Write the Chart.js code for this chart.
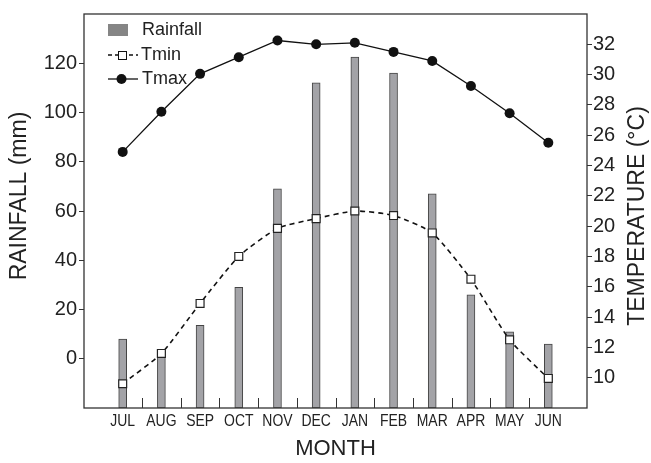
<!DOCTYPE html>
<html>
<head>
<meta charset="utf-8">
<script src="https://cdn.jsdelivr.net/npm/chart.js@4.4.1/dist/chart.umd.min.js"></script>
<style>
    html, body { margin: 0; padding: 0; background: #fff; }
    #wrap { width: 651px; height: 463px; }
</style>
</head>
<body>
<div id="wrap"><canvas id="climateChart"></canvas></div>
<script>
// Data
const months = ['JUL', 'AUG', 'SEP', 'OCT', 'NOV', 'DEC', 'JAN', 'FEB', 'MAR', 'APR', 'MAY', 'JUN'];
const rainfall = [8, 3, 13.6, 29, 69, 112, 122.5, 116, 67, 26, 10.9, 6];
const tmin = [9.6, 11.6, 14.9, 18.0, 19.85, 20.5, 21.0, 20.7, 19.55, 16.5, 12.5, 9.95];
const tmax = [24.9, 27.55, 30.05, 31.15, 32.25, 32.0, 32.1, 31.5, 30.9, 29.25, 27.45, 25.5];
const rainTicks = [0, 20, 40, 60, 80, 100, 120];
const tempTicks = [10, 12, 14, 16, 18, 20, 22, 24, 26, 28, 30, 32];

const RAIN_MIN = -20, RAIN_MAX = 140;
const TEMP_MIN = 8, TEMP_MAX = 34;

const FONT = '"Liberation Sans", Arial, Helvetica, sans-serif';
const INK = '#222';
const AXIS = '#333';

function drawVerticalText(ctx, text, x, y) {
    ctx.save();
    ctx.translate(x, y);
    ctx.rotate(-Math.PI / 2);
    ctx.textAlign = 'center';
    ctx.textBaseline = 'middle';
    ctx.fillText(text, 0, 0);
    ctx.restore();
}

// frame, inward month ticks, condensed month labels, y titles and the in-plot legend
const decorPlugin = {
    id: 'decor',
    afterDraw(chart) {
        const { ctx, chartArea: a, scales } = chart;
        ctx.save();

        ctx.strokeStyle = AXIS;
        ctx.lineWidth = 1.3;
        ctx.strokeRect(a.left, a.top, a.right - a.left, a.bottom - a.top);

        // tick marks between months, pointing up into the plot
        ctx.lineWidth = 1;
        ctx.beginPath();
        for (let i = 0; i < months.length - 1; i++) {
            const x = Math.round(scales.x.getPixelForValue(i + 0.5)) + 0.5;
            ctx.moveTo(x, a.bottom);
            ctx.lineTo(x, a.bottom - 10);
        }
        ctx.stroke();

        // month labels, horizontally condensed like the original
        ctx.fillStyle = INK;
        ctx.font = '17px ' + FONT;
        ctx.textAlign = 'center';
        ctx.textBaseline = 'middle';
        months.forEach((m, i) => {
            const x = scales.x.getPixelForValue(i);
            ctx.save();
            ctx.translate(x, a.bottom + 13);
            ctx.scale(0.82, 1);
            ctx.fillText(m, 0, 0);
            ctx.restore();
        });

        // axis titles, both reading bottom to top
        ctx.font = '23px ' + FONT;
        drawVerticalText(ctx, 'RAINFALL (mm)', 20, 196);
        drawVerticalText(ctx, 'TEMPERATURE (°C)', 638, 216);

        // legend
        const lx = a.left + 24;
        ctx.font = '18px ' + FONT;
        ctx.textAlign = 'left';
        ctx.textBaseline = 'middle';

        ctx.fillStyle = '#858585';
        ctx.fillRect(lx, a.top + 10, 20, 12);
        ctx.fillStyle = INK;
        ctx.fillText('Rainfall', lx + 34, a.top + 16);

        let y = a.top + 41;
        ctx.strokeStyle = '#111';
        ctx.lineWidth = 1.5;
        ctx.setLineDash([4, 3]);
        ctx.beginPath();
        ctx.moveTo(lx, y);
        ctx.lineTo(lx + 30, y);
        ctx.stroke();
        ctx.setLineDash([]);
        ctx.fillStyle = '#fff';
        ctx.lineWidth = 1;
        ctx.fillRect(lx + 10, y - 4, 8, 8);
        ctx.strokeRect(lx + 10.5, y - 3.5, 8, 8);
        ctx.fillStyle = INK;
        ctx.fillText('Tmin', lx + 33, y);

        y = a.top + 65;
        ctx.lineWidth = 1.3;
        ctx.beginPath();
        ctx.moveTo(lx, y);
        ctx.lineTo(lx + 30, y);
        ctx.stroke();
        ctx.fillStyle = '#111';
        ctx.beginPath();
        ctx.arc(lx + 13.5, y, 5, 0, Math.PI * 2);
        ctx.fill();
        ctx.fillStyle = INK;
        ctx.fillText('Tmax', lx + 34, y);

        ctx.restore();
    }
};

const ctx = document.getElementById('climateChart').getContext('2d');

new Chart(ctx, {
    type: 'bar',
    data: {
        datasets: [
            {
                type: 'line',
                label: 'Tmax',
                data: tmax.map((v, i) => ({ x: i, y: v })),
                yAxisID: 'yTemp',
                borderColor: '#111',
                borderWidth: 1.3,
                pointStyle: 'circle',
                pointRadius: 5,
                pointBackgroundColor: '#111',
                pointBorderColor: '#111',
                pointBorderWidth: 0,
                tension: 0,
                order: 1
            },
            {
                type: 'line',
                label: 'Tmin',
                data: tmin.map((v, i) => ({ x: i, y: v })),
                yAxisID: 'yTemp',
                borderColor: '#111',
                borderWidth: 1.6,
                borderDash: [5, 4],
                pointStyle: 'rect',
                pointRadius: 5.6,
                pointBackgroundColor: '#fff',
                pointBorderColor: '#222',
                pointBorderWidth: 1.2,
                tension: 0.2,
                order: 1
            },
            {
                label: 'Rainfall',
                data: rainfall.map((v, i) => ({ x: i, y: v })),
                yAxisID: 'yRain',
                base: RAIN_MIN,
                backgroundColor: '#a3a3a7',
                borderColor: '#444',
                borderWidth: 1,
                borderSkipped: false,
                barThickness: 8,
                order: 2
            }
        ]
    },
    options: {
        responsive: true,
        maintainAspectRatio: false,
        animation: false,
        layout: {
            padding: { top: 8, left: 0, right: 0, bottom: 0 }
        },
        plugins: {
            legend: { display: false },
            tooltip: { enabled: false }
        },
        scales: {
            x: {
                type: 'linear',
                offset: false,
                min: -1,
                max: 12,
                afterBuildTicks: scale => {
                    scale.ticks = months.map((m, i) => ({ value: i }));
                },
                afterFit: scale => { scale.height = 55; },
                grid: { display: false, drawTicks: false },
                border: { display: false },
                ticks: { display: false },
                title: {
                    display: true,
                    text: 'MONTH',
                    color: INK,
                    font: { family: FONT, size: 22 },
                    padding: { top: 0, bottom: 1 }
                }
            },
            yRain: {
                type: 'linear',
                position: 'left',
                min: RAIN_MIN,
                max: RAIN_MAX,
                afterBuildTicks: scale => {
                    scale.ticks = rainTicks.map(v => ({ value: v }));
                },
                afterFit: scale => { scale.width = 84; },
                grid: {
                    drawOnChartArea: false,
                    drawTicks: true,
                    tickLength: 5,
                    color: AXIS
                },
                border: { display: false },
                ticks: {
                    padding: 2,
                    color: INK,
                    font: { family: FONT, size: 20 }
                }
            },
            yTemp: {
                type: 'linear',
                position: 'right',
                min: TEMP_MIN,
                max: TEMP_MAX,
                afterBuildTicks: scale => {
                    scale.ticks = tempTicks.map(v => ({ value: v }));
                },
                afterFit: scale => { scale.width = 64; },
                grid: {
                    drawOnChartArea: false,
                    drawTicks: true,
                    tickLength: 5,
                    color: AXIS
                },
                border: { display: false },
                ticks: {
                    padding: 1,
                    color: INK,
                    font: { family: FONT, size: 20 }
                }
            }
        }
    },
    plugins: [decorPlugin]
});
</script>
</body>
</html>
